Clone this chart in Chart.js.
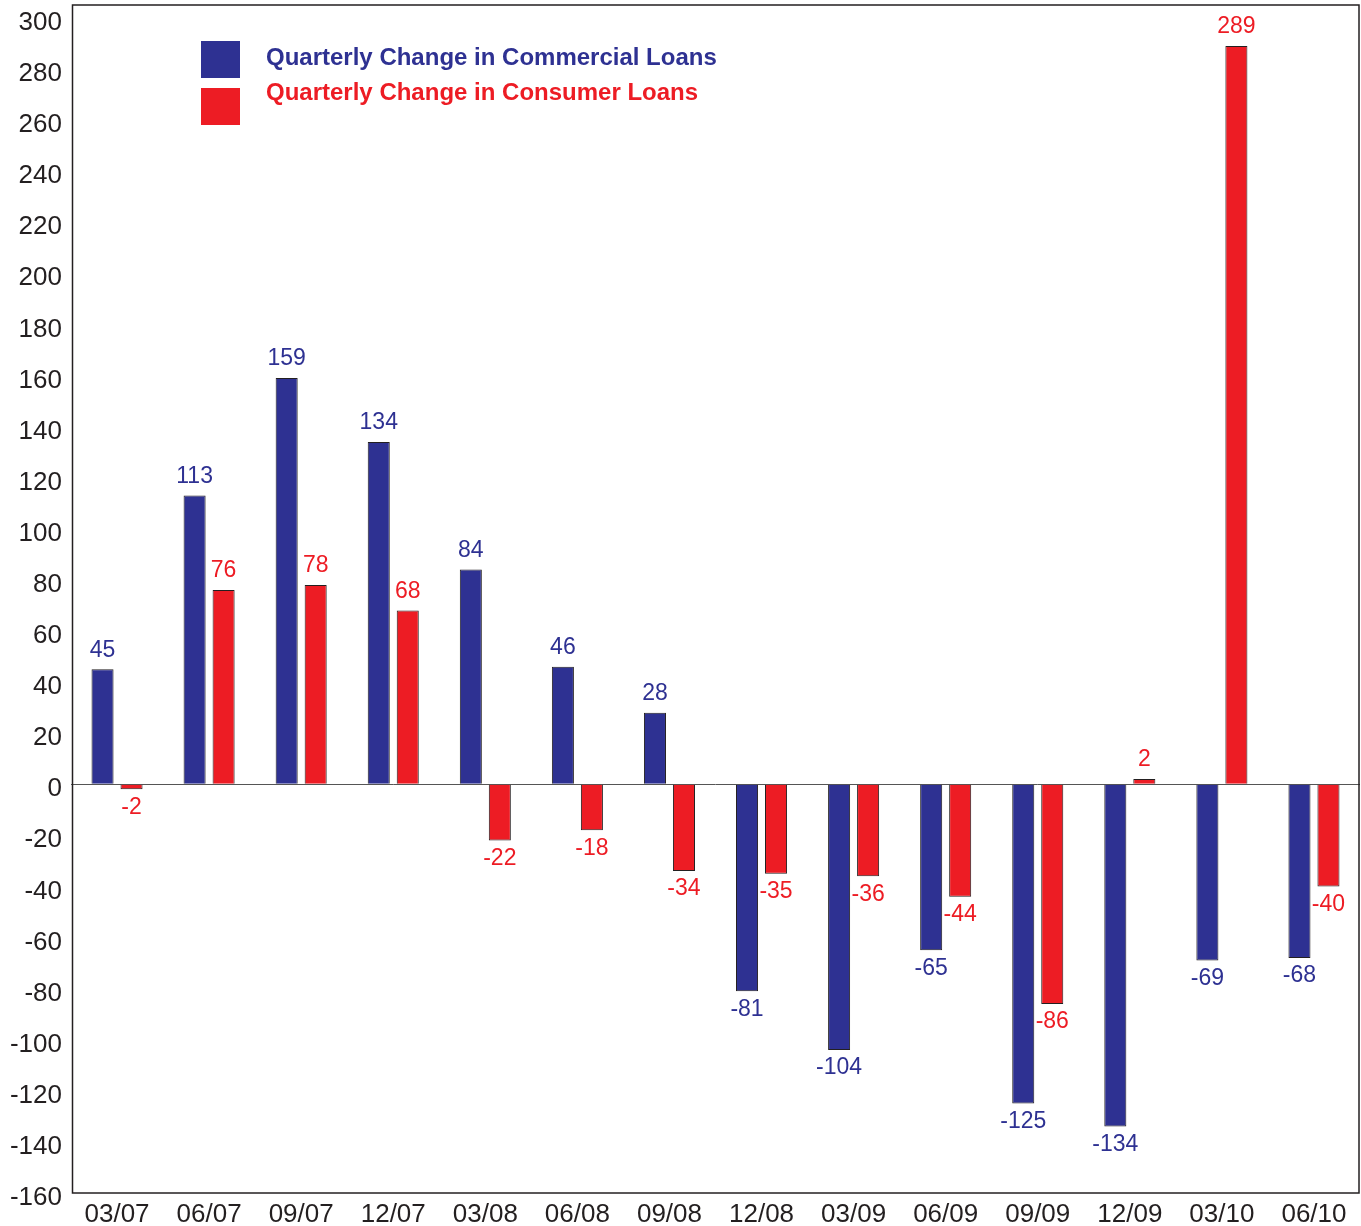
<!DOCTYPE html>
<html>
<head>
<meta charset="utf-8">
<script src="https://cdn.jsdelivr.net/npm/chart.js@4"></script>
<style>
html,body{margin:0;padding:0;background:#fff;}
#wrap{width:1361px;height:1226px;}
</style>
</head>
<body>
<div id="wrap"><canvas id="c" width="1361" height="1226"></canvas></div>
<script>
const categories = ['03/07','06/07','09/07','12/07','03/08','06/08','09/08','12/08','03/09','06/09','09/09','12/09','03/10','06/10'];
const commercialLoans = [45,113,159,134,84,46,28,-81,-104,-65,-125,-134,-69,-68];
const consumerLoans = [-2,76,78,68,-22,-18,-34,-35,-36,-44,-86,2,289,-40];
const seriesNames = ['Quarterly Change in Commercial Loans','Quarterly Change in Consumer Loans'];
const yTickValues = [300,280,260,240,220,200,180,160,140,120,100,80,60,40,20,0,-20,-40,-60,-80,-100,-120,-140,-160];

const BLUE = '#2e3192';
const RED = '#ed1c24';
const INK = '#231f20';
const FONT = '"Liberation Sans", Arial, Helvetica, sans-serif';

const frame = {
  id: 'frame',
  afterDatasetsDraw(chart) {
    const a = chart.chartArea, ctx = chart.ctx;
    ctx.save();
    ctx.strokeStyle = INK;
    ctx.lineWidth = 1.5;
    ctx.strokeRect(a.left + 1.5, a.top, a.right - a.left - 2.5, a.bottom - a.top);
    ctx.restore();
  }
};

const valueLabels = {
  id: 'valueLabels',
  afterDatasetsDraw(chart) {
    const ctx = chart.ctx;
    ctx.save();
    ctx.font = '23px ' + FONT;
    ctx.textAlign = 'center';
    ctx.textBaseline = 'middle';
    chart.data.datasets.forEach((ds, di) => {
      const meta = chart.getDatasetMeta(di);
      ctx.fillStyle = ds.labelColor;
      meta.data.forEach((bar, i) => {
        const v = ds.data[i];
        const y = v >= 0 ? bar.y - 19 : bar.y + 18;
        ctx.fillText(String(v), bar.x, y);
      });
    });
    ctx.restore();
  }
};

const legendBox = {
  id: 'legendBox',
  afterDraw(chart) {
    const ctx = chart.ctx;
    ctx.save();
    ctx.font = 'bold 24px ' + FONT;
    ctx.textBaseline = 'middle';
    ctx.textAlign = 'left';
    const items = [
      {c: BLUE, t: seriesNames[0], by: 41, ty: 58},
      {c: RED, t: seriesNames[1], by: 88, ty: 93}
    ];
    items.forEach(it => {
      ctx.fillStyle = it.c;
      ctx.fillRect(201, it.by, 39, 37);
      ctx.fillText(it.t, 266, it.ty);
    });
    ctx.restore();
  }
};

new Chart(document.getElementById('c'), {
  type: 'bar',
  data: {
    labels: categories,
    datasets: [
      {label: seriesNames[0], data: commercialLoans, backgroundColor: BLUE, borderColor: INK, borderWidth: 1, labelColor: BLUE,
       barPercentage: 0.76, categoryPercentage: 0.63},
      {label: seriesNames[1], data: consumerLoans, backgroundColor: RED, borderColor: INK, borderWidth: 1, labelColor: RED,
       barPercentage: 0.76, categoryPercentage: 0.63}
    ]
  },
  options: {
    responsive: false,
    animation: false,
    layout: {padding: {top: 5, right: 1, left: 0, bottom: 0}},
    plugins: {legend: {display: false}, tooltip: {enabled: false}},
    scales: {
      x: {
        grid: {display: false, drawTicks: false},
        border: {display: false},
        ticks: {color: INK, font: {size: 26, family: FONT}, padding: 6, maxRotation: 0, autoSkip: false},
        afterFit(s) { s.height = 33; s.paddingLeft = 0; s.paddingRight = 0; }
      },
      y: {
        min: -160, max: 305,
        afterBuildTicks(s) { s.ticks = yTickValues.map(v => ({value: v})); },
        grid: {
          drawTicks: false,
          color: c => (c.tick && c.tick.value === 0) ? '#555555' : 'rgba(0,0,0,0)',
          lineWidth: 1
        },
        border: {display: false},
        ticks: {color: INK, font: {size: 26, family: FONT}, padding: 9, labelOffset: 5},
        afterFit(s) { s.width = 71; s.paddingTop = 0; s.paddingBottom = 0; }
      }
    }
  },
  plugins: [frame, valueLabels, legendBox]
});
</script>
</body>
</html>
